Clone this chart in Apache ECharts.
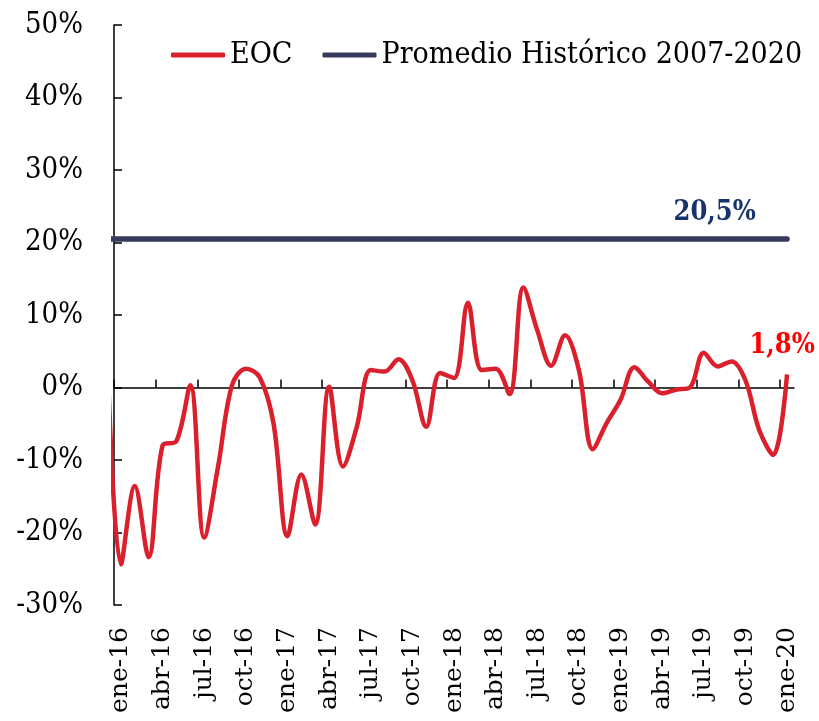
<!DOCTYPE html>
<html>
<head>
<meta charset="utf-8">
<title>EOC</title>
<script src="https://cdn.jsdelivr.net/npm/echarts@6/dist/echarts.min.js"></script>
<style>
    html, body { margin: 0; padding: 0; background: #fff; }
    #chart { width: 819px; height: 721px; }
</style>
</head>
<body>
<div id="chart"></div>
<script>
    // dic-15 solo da el tramo inicial que queda cortado por el eje
    const meses = ['dic-15',
        'ene-16', 'feb-16', 'mar-16', 'abr-16', 'may-16', 'jun-16', 'jul-16', 'ago-16', 'sep-16', 'oct-16', 'nov-16', 'dic-16',
        'ene-17', 'feb-17', 'mar-17', 'abr-17', 'may-17', 'jun-17', 'jul-17', 'ago-17', 'sep-17', 'oct-17', 'nov-17', 'dic-17',
        'ene-18', 'feb-18', 'mar-18', 'abr-18', 'may-18', 'jun-18', 'jul-18', 'ago-18', 'sep-18', 'oct-18', 'nov-18', 'dic-18',
        'ene-19', 'feb-19', 'mar-19', 'abr-19', 'may-19', 'jun-19', 'jul-19', 'ago-19', 'sep-19', 'oct-19', 'nov-19', 'dic-19',
        'ene-20'];

    const eoc = [6.0,
        -24.4, -13.6, -23.4, -8.0, -7.4, 0.3, -20.7, -10.9, 0.3, 2.6, 1.4, -5.0,
        -20.5, -12.0, -18.9, 0.1, -10.9, -5.4, 2.4, 2.2, 3.9, 1.0, -5.4, 2.0,
        1.3, 11.7, 2.4, 2.6, -0.9, 13.8, 7.9, 3.0, 7.2, 2.4, -8.5, -4.9,
        -1.7, 2.8, 0.8, -0.8, -0.3, 0.0, 4.8, 2.9, 3.6, 1.0, -5.9, -9.3,
        1.8];

    const promedio = 20.5;
    const etiquetaPromedio = 'ago-19';   // donde va el texto 20,5%

    const rojo = '#da202c';
    const azul = '#363a5c';
    const fuente = 'DejaVu Serif Condensed';

    const pct = (v) => v.toFixed(1).replace('.', ',') + '%';

    let ultimo = meses.length - 1;
    let eocData = eoc.map((v, i) => {
        if (i === ultimo) {
            return {
                value: [i - 1, v],
                label: { show: true, position: 'top', distance: 14, offset: [-5, 0],
                    formatter: (p) => pct(p.value[1]),
                    color: '#ff0000', fontFamily: fuente, fontWeight: 'bold', fontSize: 27 }
            };
        }
        return [i - 1, v];
    });
    let promData = meses.map((m, i) => {
        if (m === etiquetaPromedio) {
            return {
                value: [i - 1, promedio],
                label: { show: true, position: 'top', distance: 12, offset: [-3, 0],
                    formatter: (p) => pct(p.value[1]),
                    color: '#17336b', fontFamily: fuente, fontWeight: 'bold', fontSize: 27 }
            };
        }
        return [i - 1, promedio];
    });

    // marcas cada 3 meses, en el borde izquierdo de cada mes rotulado
    let marcas = meses.slice(1).map((m, i) => i).filter((i) => i % 3 === 0).map((i) => i - 0.5);

    let chart = echarts.init(document.getElementById('chart'));
    chart.setOption({
        animation: false,
        grid: { left: 114, right: 25, top: 25, bottom: 116 },
        legend: {
            left: 166,
            top: 35,
            itemWidth: 54,
            itemHeight: 5,
            itemGap: 30,
            icon: 'roundRect',
            textStyle: { fontFamily: fuente, fontSize: 30, color: '#000' },
            data: ['EOC', 'Promedio Histórico 2007-2020']
        },
        xAxis: [{
            type: 'category',
            data: meses.slice(1),
            position: 'bottom',
            boundaryGap: true,
            axisLine: { show: false, onZero: false },
            axisTick: { show: false },
            axisLabel: { interval: 2, rotate: 90, margin: 22, fontFamily: 'DejaVu Serif', fontSize: 25, color: '#000' },
            splitLine: { show: false }
        }, {
            type: 'value',
            min: -0.5,
            max: 48.5,
            position: 'bottom',
            axisLine: { show: true, onZero: true, lineStyle: { color: '#000', width: 1.5 } },
            axisTick: { show: true, inside: true, length: 8, customValues: marcas, lineStyle: { color: '#000', width: 1.5 } },
            axisLabel: { show: false },
            splitLine: { show: false }
        }],
        yAxis: {
            type: 'value',
            min: -30,
            max: 50,
            interval: 10,
            axisLine: { show: true, onZero: false, lineStyle: { color: '#000', width: 1.5 } },
            axisTick: { show: true, inside: true, length: 8, lineStyle: { color: '#000', width: 1.5 } },
            axisLabel: { formatter: '{value}%', margin: 31, fontFamily: fuente, fontSize: 29, color: '#000' },
            splitLine: { show: false }
        },
        series: [{
            name: 'EOC',
            type: 'line',
            xAxisIndex: 1,
            data: eocData,
            smooth: 0.35,
            symbol: 'circle',
            symbolSize: 1,
            showSymbol: true,
            clip: true,
            lineStyle: { color: rojo, width: 4.5 },
            itemStyle: { color: rojo },
            emphasis: { disabled: true },
            z: 3
        }, {
            name: 'Promedio Histórico 2007-2020',
            type: 'line',
            xAxisIndex: 1,
            data: promData,
            symbol: 'circle',
            symbolSize: 1,
            showSymbol: true,
            clip: true,
            lineStyle: { color: azul, width: 5.5, cap: 'round' },
            itemStyle: { color: azul },
            emphasis: { disabled: true },
            z: 2
        }]
    });
</script>
</body>
</html>
